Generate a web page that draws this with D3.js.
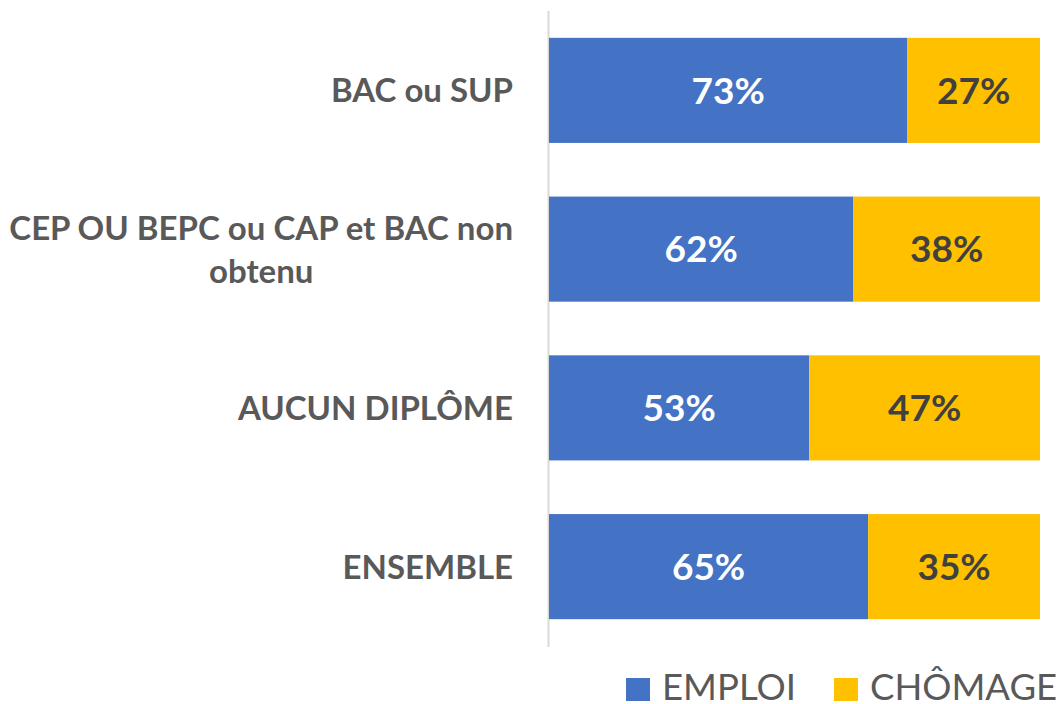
<!DOCTYPE html>
<html>
<head>
<meta charset="utf-8">
<script src="https://cdn.jsdelivr.net/npm/d3@7"></script>
<style>
  body { margin: 0; background: #fff; }
  text { font-family: Lato, "Open Sans", sans-serif; }
</style>
</head>
<body>
<div id="chart"></div>
<script>
// categories, top to bottom
var categories = ["BAC ou SUP", "CEP OU BEPC ou CAP et BAC non obtenu", "AUCUN DIPLÔME", "ENSEMBLE"];
// label lines (as wrapped in the picture)
var labelLines = [["BAC ou SUP"], ["CEP OU BEPC ou CAP et BAC non", "obtenu"], ["AUCUN DIPLÔME"], ["ENSEMBLE"]];
var seriesNames = ["EMPLOI", "CHÔMAGE"];
var emploi = [73, 62, 53, 65];
var chomage = [27, 38, 47, 35];

var colors = {"EMPLOI": "#4472C4", "CHÔMAGE": "#FFC000"};

var W = 1059, H = 704;
var x0 = 549, x1 = 1040;

var svg = d3.select('#chart').append('svg')
    .attr('width', W)
    .attr('height', H);

var rows = categories.map(function(c, i) {
  return {cat: c, EMPLOI: emploi[i], "CHÔMAGE": chomage[i]};
});

var x = d3.scaleLinear().domain([0, 100]).range([x0, x1]);
var y = d3.scaleBand().domain(categories).range([11, 646])
    .paddingInner(0.338).paddingOuter(0.169);

var stack = d3.stack().keys(seriesNames)(rows);

// axis line
svg.append('line')
   .attr('x1', x0 - 0.5).attr('x2', x0 - 0.5)
   .attr('y1', 11).attr('y2', 647)
   .attr('stroke', '#D9D9D9').attr('stroke-width', 2);

var layer = svg.selectAll('g.layer').data(stack).enter().append('g')
   .attr('class', 'layer')
   .attr('fill', function(d) { return colors[d.key]; });

layer.selectAll('rect').data(function(d) { return d; }).enter().append('rect')
   .attr('x', function(d) { return x(d[0]); })
   .attr('width', function(d) { return x(d[1]) - x(d[0]); })
   .attr('y', function(d) { return y(d.data.cat); })
   .attr('height', y.bandwidth());

// value labels
layer.selectAll('text').data(function(d) { return d.map(function(v) { return {v: v, key: d.key}; }); })
   .enter().append('text')
   .attr('x', function(d) { return (x(d.v[0]) + x(d.v[1])) / 2; })
   .attr('y', function(d) { return y(d.v.data.cat) + y.bandwidth() / 2; })
   .attr('dy', '0.36em')
   .attr('text-anchor', 'middle')
   .attr('font-size', 37)
   .attr('font-weight', 'bold')
   .attr('fill', function(d) { return d.key === "EMPLOI" ? "#FFFFFF" : "#404040"; })
   .text(function(d) { return d.v.data[d.key] + '%'; });

// category labels (wrapped, centered block, right edge at 513)
categories.forEach(function(c, i) {
  var lines = labelLines[i];
  var cy = y(c) + y.bandwidth() / 2;
  var t = svg.append('text')
     .attr('font-size', 33)
     .attr('font-weight', 'bold')
     .attr('fill', '#595959');
  if (lines.length === 1) {
    t.attr('x', 513).attr('y', cy).attr('dy', '0.36em')
     .attr('text-anchor', 'end').text(lines[0]);
  } else {
    t.attr('text-anchor', 'middle');
    var lh = 43;
    var first = t.append('tspan').text(lines[0]);
    var wFirst = first.node().getComputedTextLength();
    var cx = 513 - wFirst / 2;
    lines.forEach(function(l, j) {
      var ts = j === 0 ? first : t.append('tspan').text(l);
      ts.attr('x', cx).attr('y', cy + (j - (lines.length - 1) / 2) * lh).attr('dy', '0.36em');
    });
  }
});

// legend
var legend = svg.append('g');
var legX = [626, 834];
seriesNames.forEach(function(s, i) {
  legend.append('rect')
     .attr('x', legX[i]).attr('y', 678)
     .attr('width', 24).attr('height', 23)
     .attr('fill', colors[s]);
  legend.append('text')
     .attr('x', legX[i] + 36).attr('y', 700)
     .attr('font-size', 36.5)
     .attr('fill', '#595959')
     .text(s);
});
</script>
</body>
</html>
